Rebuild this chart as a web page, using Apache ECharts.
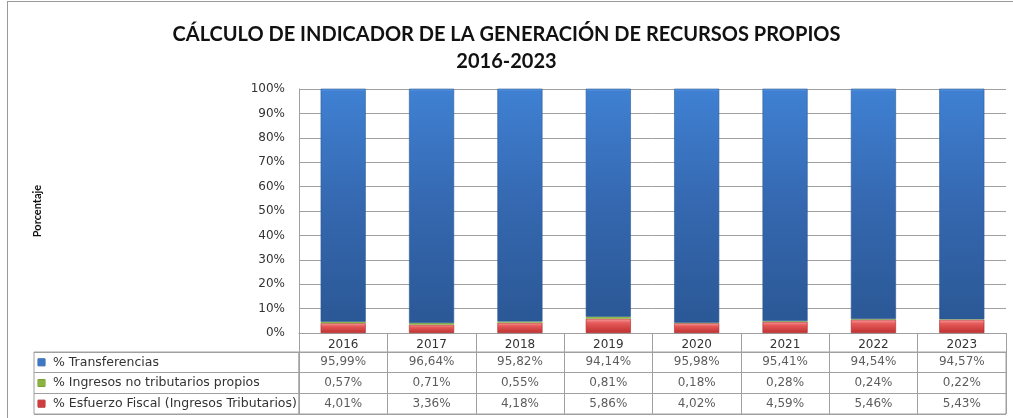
<!DOCTYPE html>
<html>
<head>
<meta charset="utf-8">
<script src="https://cdn.jsdelivr.net/npm/echarts@6/dist/echarts.min.js"></script>
<style>
  html, body { margin: 0; padding: 0; background: #ffffff; }
  #chart { position: absolute; left: 0; top: 0; width: 1013px; height: 418px; }
  #frame { position: absolute; left: 7px; top: 1px; width: 1010px; height: 420px;
           border-left: 1px solid #9a9a9a; border-top: 1px solid #9a9a9a; pointer-events: none; }
</style>
</head>
<body>
<div id="chart"></div>
<div id="frame"></div>
<script>
// Years shown on the category axis and as the table header
const years = ['2016', '2017', '2018', '2019', '2020', '2021', '2022', '2023'];

// Series names, in table order (top to bottom)
const nameTransfer = '% Transferencias';
const nameNoTrib = '% Ingresos no tributarios propios';
const nameFiscal = '% Esfuerzo Fiscal (Ingresos Tributarios)';

// Shares of total income (%)
const transferencias = [95.99, 96.64, 95.82, 94.14, 95.98, 95.41, 94.54, 94.57];
const noTributarios = [0.57, 0.71, 0.55, 0.81, 0.18, 0.28, 0.24, 0.22];
const esfuerzoFiscal = [4.01, 3.36, 4.18, 5.86, 4.02, 4.59, 5.46, 5.43];

// Value axis tick labels
const yTicks = [0, 10, 20, 30, 40, 50, 60, 70, 80, 90, 100];

const tableRows = [nameTransfer, nameNoTrib, nameFiscal];
const tableValues = [transferencias, noTributarios, esfuerzoFiscal];
const rowColors = ['#3d78c6', '#8ab43e', '#d23c3c'];

const gridLine = '#a0a0a0';
const textColor = '#333333';
const labelFont = 'DejaVu Sans, Verdana, sans-serif';
const titleFont = 'Lato, Liberation Sans, sans-serif';

const fmtPct = v => v.toFixed(2).replace('.', ',') + '%';

const blueFill = new echarts.graphic.LinearGradient(0, 0, 0, 1, [
  { offset: 0, color: '#5b9be6' },
  { offset: 0.012, color: '#3f80d2' },
  { offset: 0.5, color: '#3568b0' },
  { offset: 1, color: '#2b5896' }
]);
const redFill = new echarts.graphic.LinearGradient(0, 0, 0, 1, [
  { offset: 0, color: '#f7a0a0' },
  { offset: 0.3, color: '#e65a5a' },
  { offset: 1, color: '#bf3030' }
]);
const greenFill = '#8cb548';

const chart = echarts.init(document.getElementById('chart'), null, { renderer: 'canvas' });

// Cell labels for the data table: one invisible point per cell
const cellSeries = tableRows.map((row, r) => ({
  type: 'scatter',
  xAxisIndex: 1,
  yAxisIndex: 1,
  symbolSize: 0,
  silent: true,
  data: years.map((y, i) => ({ value: [y, row], cell: tableValues[r][i] })),
  label: {
    show: true,
    position: 'inside',
    formatter: p => fmtPct(p.data.cell),
    color: textColor,
    fontFamily: labelFont,
    fontSize: 12
  }
}));

const option = {
  animation: false,
  backgroundColor: '#ffffff',
  title: {
    text: 'CÁLCULO DE INDICADOR DE LA GENERACIÓN DE RECURSOS PROPIOS\n2016-2023',
    left: 'center',
    top: 16,
    textStyle: {
      fontFamily: titleFont,
      fontWeight: 'bold',
      fontSize: 20,
      lineHeight: 27,
      color: '#111111'
    }
  },
  grid: [
    // plot area
    { left: 299, right: 7, top: 89, height: 244 },
    // table values
    { left: 299, right: 7, top: 352, height: 62, show: true, borderColor: gridLine, borderWidth: 1 },
    // table legend column
    { left: 34, width: 265, top: 352, height: 62, show: true, borderColor: gridLine, borderWidth: 1 }
  ],
  xAxis: [
    {
      type: 'category',
      gridIndex: 0,
      data: years,
      axisLine: { lineStyle: { color: gridLine } },
      axisTick: { show: true, length: 19, lineStyle: { color: gridLine } },
      axisLabel: { margin: 6, color: textColor, fontFamily: labelFont, fontSize: 12 }
    },
    {
      type: 'category',
      gridIndex: 1,
      data: years,
      axisLine: { show: false },
      axisTick: { show: false },
      axisLabel: { show: false },
      splitLine: { show: true, lineStyle: { color: gridLine } }
    },
    {
      type: 'value',
      gridIndex: 2,
      show: false
    }
  ],
  yAxis: [
    {
      type: 'value',
      gridIndex: 0,
      min: 0,
      max: 100,
      interval: 10,
      name: 'Porcentaje',
      nameLocation: 'middle',
      nameRotate: 90,
      nameGap: 256,
      nameTextStyle: {
        fontFamily: titleFont,
        fontWeight: 'bold',
        fontSize: 11,
        color: '#111111'
      },
      axisLine: { show: true, lineStyle: { color: gridLine } },
      axisTick: { show: false },
      axisLabel: {
        margin: 14,
        color: textColor,
        fontFamily: labelFont,
        fontSize: 12,
        formatter: v => (yTicks.includes(v) ? v + '%' : '')
      },
      splitLine: { show: true, lineStyle: { color: gridLine } }
    },
    {
      type: 'category',
      gridIndex: 1,
      data: tableRows,
      inverse: true,
      axisLine: { show: false },
      axisTick: { show: false },
      axisLabel: { show: false },
      splitLine: { show: true, lineStyle: { color: gridLine } }
    },
    {
      type: 'category',
      gridIndex: 2,
      data: tableRows,
      inverse: true,
      axisLine: { show: false },
      axisTick: { show: false },
      splitLine: { show: true, lineStyle: { color: gridLine } },
      axisLabel: {
        inside: true,
        margin: 4,
        align: 'left',
        formatter: (v, i) => '{s' + i + '|}  ' + v,
        color: textColor,
        fontFamily: labelFont,
        fontSize: 12.5,
        rich: {
          s0: { width: 7, height: 7, backgroundColor: rowColors[0], borderColor: '#2a5590', borderWidth: 0.5 },
          s1: { width: 7, height: 7, backgroundColor: rowColors[1], borderColor: '#6a8c2c', borderWidth: 0.5 },
          s2: { width: 7, height: 7, backgroundColor: rowColors[2], borderColor: '#9a2a2a', borderWidth: 0.5 }
        }
      }
    }
  ],
  series: [
    {
      name: nameFiscal,
      type: 'bar',
      stack: 'total',
      barWidth: '51%',
      data: esfuerzoFiscal,
      itemStyle: { color: redFill, borderColor: '#a82828', borderWidth: 0.6 }
    },
    {
      name: nameNoTrib,
      type: 'bar',
      stack: 'total',
      barWidth: '51%',
      data: noTributarios,
      itemStyle: { color: greenFill }
    },
    {
      name: nameTransfer,
      type: 'bar',
      stack: 'total',
      barWidth: '51%',
      data: transferencias,
      itemStyle: { color: blueFill, borderColor: '#2d5a96', borderWidth: 0.6 }
    },
    ...cellSeries
  ]
};

chart.setOption(option);
</script>
</body>
</html>
